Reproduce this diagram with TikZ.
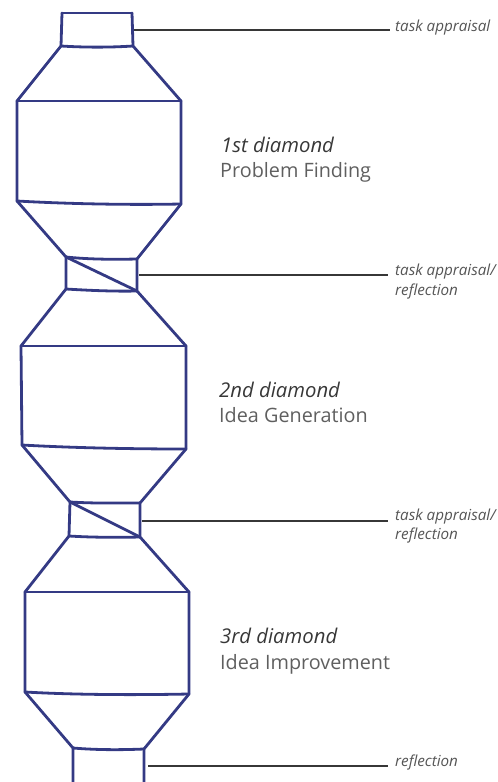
\documentclass[tikz,border=0pt]{standalone}
\usepackage{fontspec}
\setmainfont{Open Sans}
\definecolor{navy}{RGB}{52,58,132}
\definecolor{leadc}{RGB}{55,55,55}
\definecolor{headc}{RGB}{55,55,55}
\definecolor{subc}{RGB}{95,95,95}
\definecolor{smallc}{RGB}{85,85,85}
\begin{document}
\begin{tikzpicture}[x=1pt,y=-1pt,
  outline/.style={draw=navy, line width=2.8pt, line join=round, line cap=round},
  lead/.style={draw=leadc, line width=1.4pt},
  small/.style={font=\fontsize{15.2}{18}\selectfont\itshape, text=smallc, inner sep=0pt, anchor=base west},
  head/.style={font=\fontsize{20.3}{24}\selectfont\itshape, text=headc, inner sep=0pt, anchor=base west},
  sub/.style={font=\fontsize{19.8}{24}\selectfont, text=subc, inner sep=0pt, anchor=base west}]
\useasboundingbox (0,0) rectangle (498,782);
\clip (0,0) rectangle (498,782);
% silhouette sides
\draw[outline] (62,13) -- (61,46) -- (17,101) -- (17,201) -- (66,257) -- (66,289) -- (21,346) -- (22,445) -- (70,502) -- (69,536) -- (25,592) -- (25,692) -- (73,748) -- (73,795);
\draw[outline] (132,13) -- (133,46) -- (181,101) -- (181,204) -- (137,259) -- (137,291) -- (186,346) -- (186,449) -- (140,503) -- (140,537) -- (189,592) -- (189,694) -- (144,749) -- (144,795);
% horizontal edges
\draw[outline] (62,13) -- (132,13);
\draw[outline] (61,46) .. controls (85,47.5) and (110,47.5) .. (133,46);
\draw[outline] (17,101) -- (181,101);
\draw[outline] (17,201) .. controls (70,204) and (130,205) .. (181,204);
\draw[outline] (66,257) .. controls (90,259.5) and (115,259.5) .. (137,259);
\draw[outline] (66,289) .. controls (90,290.5) and (115,291.5) .. (137,291);
\draw[outline] (21,346) -- (186,346);
\draw[outline] (22,445) .. controls (75,448) and (135,449) .. (186,449);
\draw[outline] (70,502) .. controls (95,503.5) and (118,503) .. (140,503);
\draw[outline] (69,536) .. controls (93,537.5) and (118,537.5) .. (140,537);
\draw[outline] (25,592) -- (189,592);
\draw[outline] (25,692) .. controls (78,695) and (138,695) .. (189,694);
\draw[outline] (73,748) .. controls (97,750) and (120,750) .. (144,749);
% diagonals
\draw[outline] (66,257) -- (137,291);
\draw[outline] (70,502) -- (140,537);
% leader starts
\coordinate (c1) at (134,30);
\coordinate (c2) at (139,275);
\coordinate (c3) at (142,521);
\coordinate (c4) at (148,766);
% small labels
\node[small] (t1) at (395,31) {task appraisal};
\node[small] (t2a) at (395,275) {task appraisal/};
\node[small] (t2b) at (395,295) {reflection};
\node[small] (t3a) at (395,520) {task appraisal/};
\node[small] (t3b) at (395,539) {reflection};
\node[small] (t4) at (395,766) {reflection};
\draw[lead] (c1) -- ([xshift=-5pt]t1.west |- c1);
\draw[lead] (c2) -- ([xshift=-7pt]t2a.west |- c2);
\draw[lead] (c3) -- ([xshift=-7pt]t3a.west |- c3);
\draw[lead] (c4) -- ([xshift=-7pt]t4.west |- c4);
% main labels
\node[head] (h1) at (221,152) {1st diamond};
\node[sub] (s1) at (220,177) {Problem Finding};
\node[head] (h2) at (219,397) {2nd diamond};
\node[sub] (s2) at (219,422) {Idea Generation};
\node[head] (h3) at (220,643) {3rd diamond};
\node[sub] (s3) at (220,669) {Idea Improvement};
\end{tikzpicture}
\end{document}
